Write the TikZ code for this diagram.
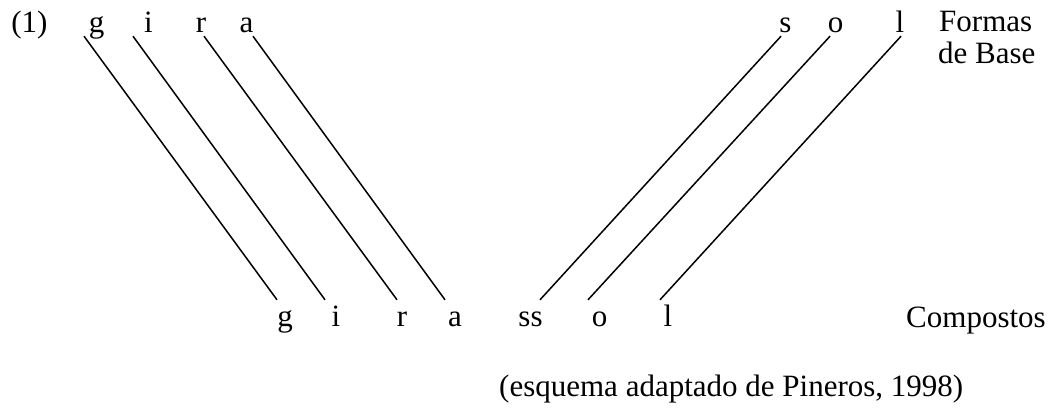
\documentclass[tikz,border=0pt]{standalone}
\usepackage{fontspec}
\setmainfont{Liberation Serif}

\begin{document}
\begin{tikzpicture}[x=1pt, y=-1pt, every node/.style={font=\fontsize{31}{35}\selectfont},
	letra/.style={inner sep=0pt, text height=26pt, text depth=4pt, anchor=base},
	liga/.style={line width=1.5pt}]
	\useasboundingbox (0,0) rectangle (1056,407);
	% formas de base
	\node[letra] (num) at (29.5,32) {(1)};
	\node[letra] (bg) at (96.5,32) {g};
	\node[letra] (bi) at (148.5,32) {i};
	\node[letra] (br) at (201,32) {r};
	\node[letra] (ba) at (246.5,32) {a};
	\node[letra] (bs) at (785.5,32) {s};
	\node[letra] (bo) at (835.5,32) {o};
	\node[letra] (bl) at (900,32) {l};
	\node[inner sep=0pt, anchor=base west] (formas) at (939,31) {Formas};
	\node[inner sep=0pt, anchor=base west] (debase) at (938,63) {de Base};
	% composto
	\node[letra] (cg) at (285,326) {g};
	\node[letra] (ci) at (336,326) {i};
	\node[letra] (cr) at (402,326) {r};
	\node[letra] (ca) at (455,326) {a};
	\node[letra] (css) at (530.5,326) {ss};
	\node[letra] (co) at (599.5,326) {o};
	\node[letra] (cl) at (668,326) {l};
	\node[inner sep=0pt, anchor=base west] (compostos) at (906,327) {Compostos};
	\node[inner sep=0pt, anchor=base west] (fonte) at (499,396) {(esquema adaptado de Pineros, 1998)};
	% ligacoes
	\draw[liga] ([xshift=-12.5pt]bg.south) -- ([xshift=-8pt]cg.north);
	\draw[liga] ([xshift=-15.5pt]bi.south) -- ([xshift=-11pt]ci.north);
	\draw[liga] ([xshift=3pt]br.south) -- ([xshift=-5pt]cr.north);
	\draw[liga] ([xshift=6.5pt]ba.south) -- ([xshift=-10pt]ca.north);
	\draw[liga] ([xshift=-4.5pt]bs.south) -- ([xshift=9.5pt]css.north);
	\draw[liga] ([xshift=-5.5pt]bo.south) -- ([xshift=-11.5pt]co.north);
	\draw[liga] ([xshift=1pt]bl.south) -- ([xshift=-8pt]cl.north);
\end{tikzpicture}
\end{document}
